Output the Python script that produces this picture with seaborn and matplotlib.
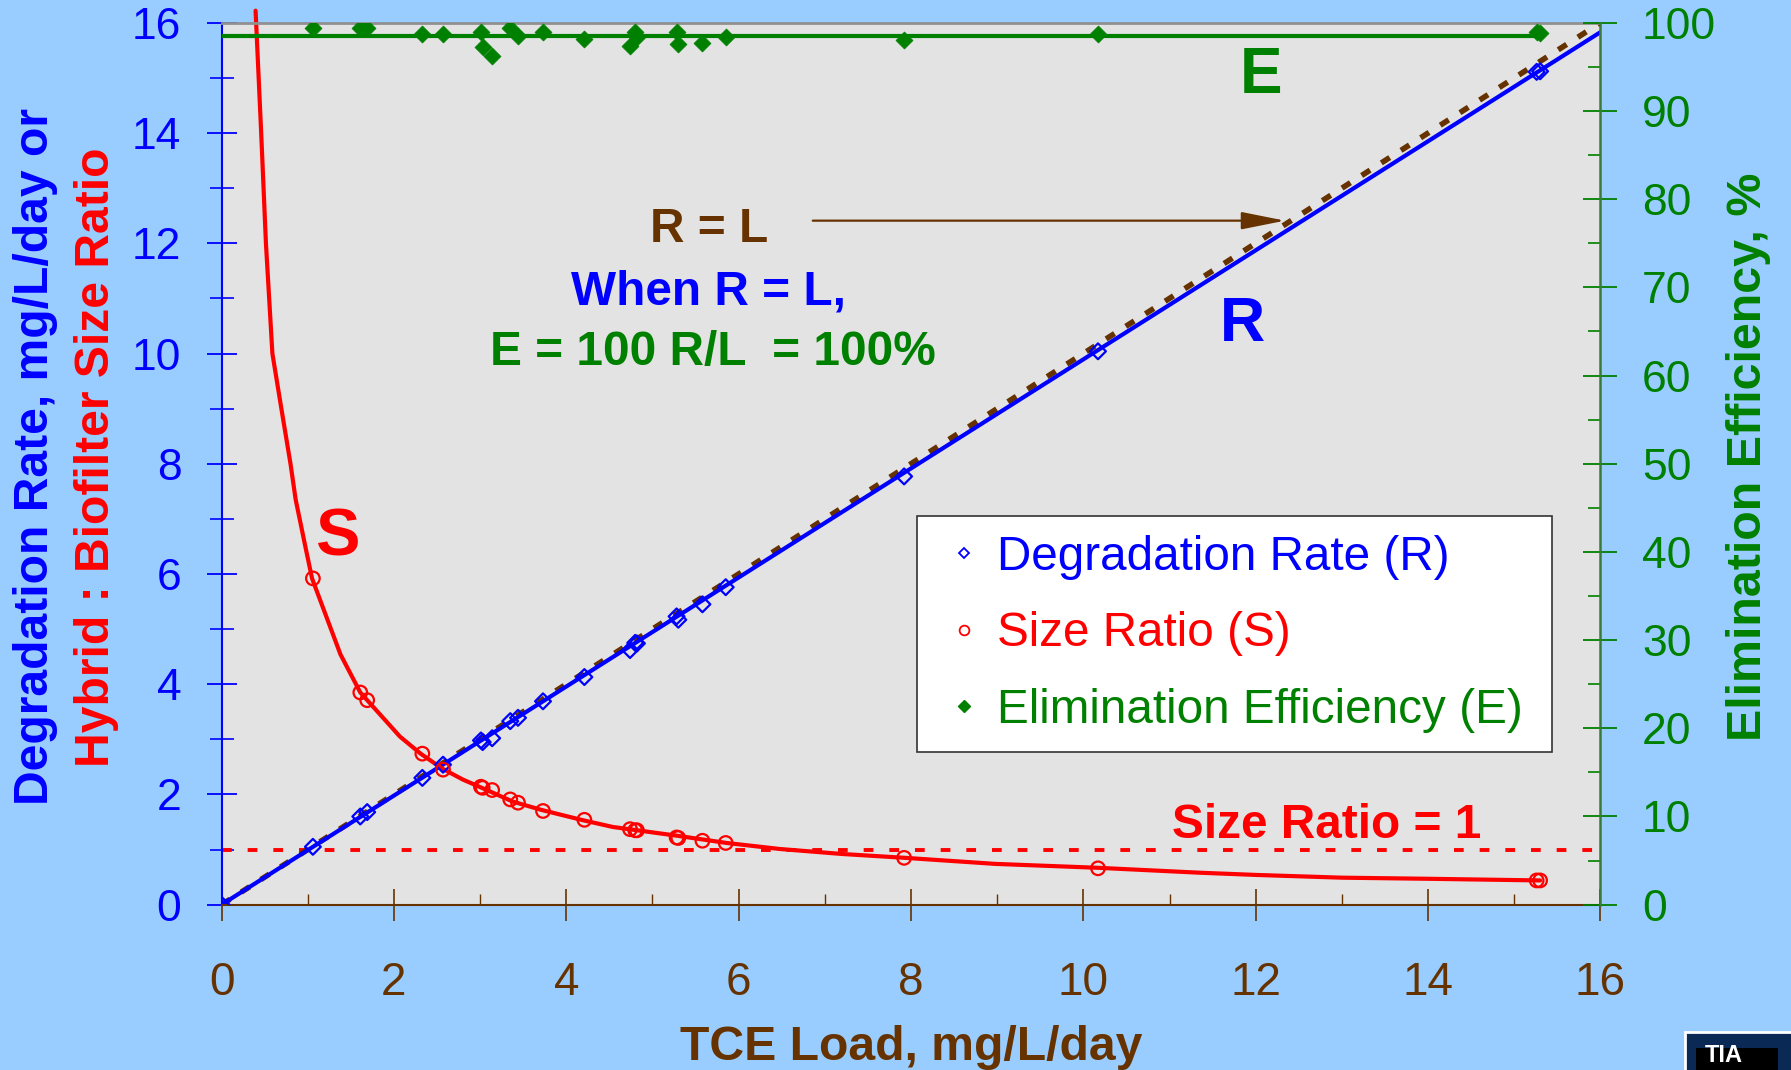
import numpy as np
import pandas as pd
import matplotlib
matplotlib.use("Agg")
import matplotlib.pyplot as plt
import seaborn as sns
from matplotlib.ticker import MultipleLocator
from matplotlib.patches import Rectangle
from matplotlib.lines import Line2D

# ---------------- data ----------------
load = [1.06, 1.61, 1.69, 2.33, 2.57, 3.01, 3.03, 3.14, 3.35, 3.44, 3.73, 4.21,
        4.74, 4.80, 4.82, 5.28, 5.30, 5.58, 5.85, 7.92, 10.17, 15.26, 15.30]
rate_load = [0.0] + load
rate = [0.0, 1.05, 1.60, 1.68, 2.30, 2.54, 2.98, 2.95, 3.02, 3.33, 3.39, 3.69, 4.13,
        4.62, 4.75, 4.74, 5.23, 5.17, 5.45, 5.76, 7.77, 10.04, 15.11, 15.12]
ratio = [5.92, 3.85, 3.71, 2.74, 2.45, 2.14, 2.12, 2.08, 1.91, 1.85, 1.70, 1.54,
         1.37, 1.35, 1.35, 1.22, 1.21, 1.16, 1.12, 0.85, 0.66, 0.44, 0.44]
eff = [99.4, 99.4, 99.4, 98.7, 98.7, 99.0, 97.2, 96.2, 99.4, 98.5, 98.9, 98.2,
       97.4, 98.9, 98.4, 99.0, 97.6, 97.7, 98.4, 98.1, 98.7, 99.0, 98.8]

# fitted size-ratio curve vertices
fit_load = [0.395, 0.46, 0.515, 0.59, 0.69, 0.80, 0.86, 0.98, 1.05, 1.38, 1.61, 2.07,
            2.31, 2.56, 2.80, 3.02, 3.38, 3.71, 4.20, 4.54, 5.29, 5.86, 6.48, 7.2,
            7.93, 8.98, 10.16, 11.35, 12.0, 13.0, 14.0, 15.3]
fit_ratio = [16.22, 14.0, 12.0, 10.0, 9.04, 8.0, 7.35, 6.44, 5.92, 4.54, 3.85, 3.05,
             2.74, 2.47, 2.27, 2.12, 1.87, 1.72, 1.53, 1.41, 1.25, 1.12, 1.01, 0.92,
             0.85, 0.74, 0.67, 0.58, 0.54, 0.49, 0.47, 0.44]
# fitted degradation-rate line, R = L line, mean efficiency line, size ratio = 1
rline_load = [0.0, 16.0]
rline_rate = [0.0, 15.83]
rl_load = [0.0, 16.0]
rl_rate = [0.0, 16.0]
eline_load = [0.0, 15.3]
eline_eff = [98.5, 98.5]
one_load = [0.0, 16.0]
one_ratio = [1.0, 1.0]

x_ticks = list(range(0, 17, 2))
y_ticks = list(range(0, 17, 2))
y2_ticks = list(range(0, 101, 10))

# ---------------- style ----------------
sns.set_style("ticks")
plt.rcParams["font.family"] = ["Liberation Sans", "DejaVu Sans"]

BLUE = "#0000FF"
RED = "#FF0000"
GREEN = "#008000"
BROWN = "#663300"
BG = "#99CCFF"
PLOT = "#E3E3E3"

fig = plt.figure(figsize=(17.91, 10.70), dpi=100)
fig.patch.set_facecolor(BG)
ax = fig.add_axes([0.1237, 0.1545, 0.7699, 0.8242])
ax.set_facecolor(PLOT)
ax2 = ax.twinx()
ax2.set_facecolor("none")

# size ratio = 1 line
sns.lineplot(x=one_load, y=one_ratio, ax=ax, color=RED, lw=2.8,
             linestyle=(0, (2.5, 4.1)), estimator=None, sort=False, legend=False)
# R = L line
sns.lineplot(x=rl_load, y=rl_rate, ax=ax, color=BROWN, lw=4.0,
             linestyle=(0, (1.8, 2.4)), estimator=None, sort=False, legend=False)
# fitted R line
sns.lineplot(x=rline_load, y=rline_rate, ax=ax, color=BLUE, lw=3.0,
             estimator=None, sort=False, legend=False)
# fitted S curve
sns.lineplot(x=fit_load, y=fit_ratio, ax=ax, color=RED, lw=3.0,
             estimator=None, sort=False, legend=False)
ax.lines[-1].set_clip_on(False)

# R points
sns.scatterplot(x=rate_load, y=rate, ax=ax, marker="D", s=65,
                facecolor="none", edgecolor=BLUE, linewidth=1.6, legend=False, zorder=5)
# S points
sns.scatterplot(x=load, y=ratio, ax=ax, marker="o", s=95,
                facecolor="none", edgecolor=RED, linewidth=1.6, legend=False, zorder=5)

# E line & points
sns.lineplot(x=eline_load, y=eline_eff, ax=ax2, color=GREEN, lw=3.0,
             estimator=None, sort=False, legend=False)
sns.scatterplot(x=load, y=eff, ax=ax2, marker="D", s=75, color=GREEN,
                edgecolor=GREEN, linewidth=0.5, legend=False, zorder=5)

# ---------------- axes ----------------
ax.set_xlim(0, 16)
ax.set_ylim(0, 16)
ax2.set_ylim(0, 100)
ax.set_xticks(x_ticks)
ax.set_yticks(y_ticks)
ax2.set_yticks(y2_ticks)
ax.xaxis.set_minor_locator(MultipleLocator(1))
ax.yaxis.set_minor_locator(MultipleLocator(1))
ax2.yaxis.set_minor_locator(MultipleLocator(5))
ax.set_xlabel("")
ax.set_ylabel("")
ax2.set_ylabel("")

for a in (ax, ax2):
    for s in a.spines.values():
        s.set_visible(True)
ax.spines["left"].set_color(BLUE)
ax.spines["left"].set_linewidth(1.5)
ax.spines["bottom"].set_color(BROWN)
ax.spines["bottom"].set_linewidth(1.5)
ax.spines["top"].set_color("#909090")
ax.spines["top"].set_linewidth(2)
ax.spines["right"].set_visible(False)
ax2.spines["right"].set_color("#3A7A3A")
ax2.spines["right"].set_linewidth(1.8)
ax2.spines["left"].set_visible(False)
ax2.spines["top"].set_visible(False)
ax2.spines["bottom"].set_visible(False)

ax.tick_params(axis="x", which="major", direction="inout", length=23, width=1.2,
               color=BROWN, labelcolor=BROWN, labelsize=33, pad=29)
ax.tick_params(axis="x", which="minor", direction="in", length=8, width=1.0, color=BROWN)
ax.tick_params(axis="y", which="major", direction="inout", length=22, width=1.3,
               color=BLUE, labelcolor=BLUE, labelsize=32, pad=18)
ax.tick_params(axis="y", which="minor", direction="inout", length=17, width=1.2, color=BLUE)
ax2.tick_params(axis="y", which="major", direction="inout", length=24, width=1.3,
                color=GREEN, labelcolor=GREEN, labelsize=32, pad=18)
ax2.tick_params(axis="y", which="minor", direction="in", length=9, width=1.2, color=GREEN)

# ---------------- annotations ----------------
ANN = 34.4
ax.text(1.34, 6.33, "S", color=RED, fontsize=48, fontweight="bold", ha="center", va="baseline")
ax.text(12.06, 14.73, "E", color=GREEN, fontsize=46, fontweight="bold", ha="center", va="baseline")
ax.text(11.85, 10.23, "R", color=BLUE, fontsize=45, fontweight="bold", ha="center", va="baseline")
ax.text(5.66, 12.03, "R = L", color=BROWN, fontsize=ANN, fontweight="bold", ha="center", va="baseline")
ax.text(5.65, 10.89, "When R = L,", color=BLUE, fontsize=ANN, fontweight="bold", ha="center", va="baseline")
ax.text(5.70, 9.79, "E = 100 R/L  = 100%", color=GREEN, fontsize=ANN, fontweight="bold",
        ha="center", va="baseline")
ax.text(12.82, 1.21, "Size Ratio = 1", color=RED, fontsize=ANN, fontweight="bold",
        ha="center", va="baseline")
ax.annotate("", xy=(12.34, 12.41), xytext=(6.86, 12.41),
            arrowprops=dict(arrowstyle="-|>,head_length=1.0,head_width=0.2",
                            mutation_scale=27, color=BROWN, lw=1.6, shrinkA=0, shrinkB=0))

# axis titles
fig.text(0.5087, 0.0093, "TCE Load, mg/L/day", color=BROWN, fontsize=34.7, fontweight="bold",
         ha="center", va="baseline")
fig.text(0.0197, 0.573, "Degradation Rate, mg/L/day or", color=BLUE, fontsize=34.6,
         fontweight="bold", rotation=90, ha="center", va="center")
fig.text(0.054, 0.573, "Hybrid : Biofilter Size Ratio", color=RED, fontsize=34.6,
         fontweight="bold", rotation=90, ha="center", va="center")
fig.text(0.976, 0.573, "Elimination Efficiency, %", color=GREEN, fontsize=34.8,
         fontweight="bold", rotation=90, ha="center", va="center")

# ---------------- legend ----------------
handles = [
    Line2D([], [], ls="none", marker="D", ms=5, mfc="none", mec=BLUE, mew=1.3),
    Line2D([], [], ls="none", marker="o", ms=7, mfc="none", mec=RED, mew=1.3),
    Line2D([], [], ls="none", marker="D", ms=6, mfc=GREEN, mec=GREEN),
]
labels = ["Degradation Rate (R)", "Size Ratio (S)", "Elimination Efficiency (E)"]
leg = ax2.legend(handles, labels, loc="upper left", bbox_to_anchor=(0.504, 0.176, 0.461, 0.265),
                 mode="expand", borderaxespad=0, fontsize=34.3, frameon=True, fancybox=False,
                 borderpad=0.4, handlelength=1.2, handletextpad=0.1, labelspacing=0.66)
leg.get_frame().set_facecolor("white")
leg.get_frame().set_edgecolor("#333333")
leg.get_frame().set_linewidth(1.2)
leg.get_frame().set_alpha(1)
for t, c in zip(leg.get_texts(), [BLUE, RED, GREEN]):
    t.set_color(c)
leg.set_zorder(20)

# ---------------- logo corner ----------------
fig.patches.append(Rectangle((0.9408, -0.01), 0.06, 0.0455, transform=fig.transFigure,
                             facecolor="#0A2A55", edgecolor="white", lw=2, zorder=5))
fig.patches.append(Rectangle((0.947, -0.01), 0.046, 0.0305, transform=fig.transFigure,
                             facecolor="black", edgecolor="none", zorder=6))
fig.text(0.952, 0.003, "TIA", color="white", fontsize=17, fontweight="bold",
         ha="left", va="bottom", zorder=7)

fig.savefig("out.png", dpi=100, facecolor=fig.get_facecolor())
